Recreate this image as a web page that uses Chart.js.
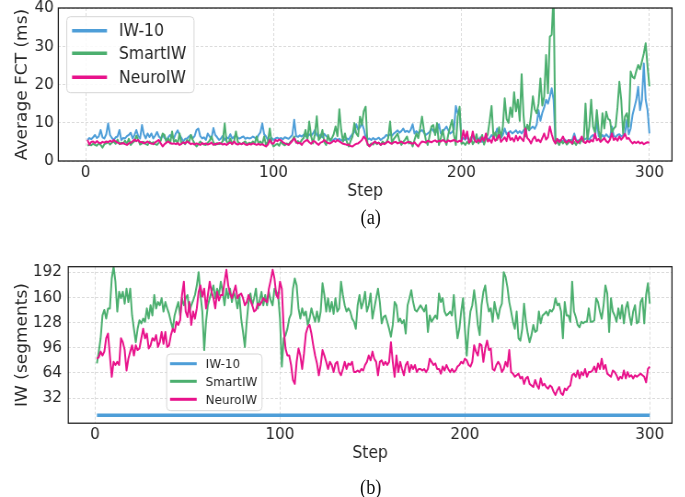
<!DOCTYPE html>
<html><head><meta charset="utf-8">
<script src="https://cdn.jsdelivr.net/npm/chart.js@4.4.1/dist/chart.umd.min.js"></script>
<style>
html,body{margin:0;padding:0;background:#fff;overflow:hidden;width:685px;height:497px;}
#wrap{position:absolute;left:0;top:0;width:745px;height:497px;transform:scaleX(0.92);transform-origin:0 0;}
canvas{position:absolute;left:0;}
.cap{position:absolute;left:353px;width:100px;text-align:center;font-family:'Liberation Serif','Times New Roman',serif;font-size:20px;line-height:24px;color:#111;}
</style></head>
<body>
<div id="wrap">
  <canvas id="c1" width="745" height="205" style="top:0;width:745px;height:205px;"></canvas>
  <div class="cap" style="top:205px;">(a)</div>
  <canvas id="c2" width="745" height="218" style="top:250px;width:745px;height:218px;"></canvas>
  <div class="cap" style="top:475px;">(b)</div>
</div>
<script>
const seriesNames = ['IW-10', 'SmartIW', 'NeuroIW'];
const steps = Array.from({length: 300}, (_, i) => i + 1);
const xTicks = [0, 100, 200, 300];
const fctTicks = [0, 10, 20, 30, 40];
const iwTicks = [32, 64, 96, 128, 160, 192];

// (a) Average FCT (ms)
const iw10Fct = [
5.5,6.0,5.7,6.2,6.8,6.0,6.4,8.1,6.2,5.9, 7.0,9.8,6.8,6.0,5.5,6.2,6.4,8.1,5.5,6.0,
5.9,6.5,6.8,7.4,5.9,6.8,8.1,6.5,5.9,9.4, 7.0,5.9,7.2,6.3,7.2,5.9,6.6,7.6,6.4,5.9,
6.8,6.0,5.5,6.2,6.8,6.3,5.9,7.2,8.0,6.8, 6.0,5.1,5.8,5.9,6.4,6.8,5.9,6.5,8.1,8.5,
6.5,5.9,6.2,5.5,7.2,6.4,5.9,8.6,6.8,6.2, 5.5,5.9,6.6,5.5,6.2,5.9,7.0,5.9,6.3,6.8,
6.0,5.9,6.2,6.4,5.8,6.1,5.9,6.0,6.4,6.1, 5.8,6.8,7.5,9.8,7.0,6.4,5.5,5.8,6.0,5.5,
5.9,6.1,5.8,6.0,5.7,6.2,6.0,5.8,6.3,6.8, 10.8,6.5,6.3,6.7,6.4,6.9,6.5,6.3,7.0,6.6,
7.2,8.1,6.8,6.3,6.9,6.2,7.1,6.5,6.0,5.8, 5.1,5.6,5.9,5.5,5.8,5.3,5.7,5.5,5.9,5.6,
6.4,7.0,7.6,9.6,8.2,8.8,9.9,8.4,6.3,5.7, 5.9,5.5,6.0,5.6,5.8,6.1,5.5,5.9,6.2,6.8,
6.5,7.0,6.6,7.2,7.6,8.0,7.4,7.8,8.5,7.6, 7.9,7.5,8.2,9.6,7.2,7.8,7.3,7.7,8.1,7.4,
6.8,7.2,7.6,8.5,7.9,7.3,8.0,9.6,7.2,7.7, 8.3,9.0,8.0,7.2,7.6,8.2,14.4,12.5,13.0,5.5,
6.0,5.6,6.4,5.2,5.8,6.5,5.4,6.0,5.5,6.2, 5.0,5.8,6.3,5.6,6.0,6.8,6.2,7.0,8.5,6.4,
6.0,6.8,8.5,7.0,7.4,7.8,7.2,7.6,8.0,7.3, 7.8,7.2,8.0,8.4,9.2,8.0,8.6,9.0,8.4,9.5,
13.3,10.5,12.6,14.0,16.0,15.0,16.8,19.0,16.0,5.4, 5.2,5.5,5.0,5.3,5.6,5.1,5.4,5.2,5.6,7.2,
5.5,5.2,5.6,5.3,5.5,5.8,6.0,5.6,6.4,6.8, 6.0,10.7,6.5,6.0,6.8,6.2,7.0,6.4,6.0,9.0,
6.6,6.2,6.8,7.0,6.4,6.8,7.2,10.7,7.0,8.5, 12.0,14.0,16.0,19.4,13.3,16.0,25.5,16.0,13.3,7.2
];
const smartFct = [
4.0,4.3,4.1,4.5,4.2,4.0,4.6,4.2,3.5,4.4, 4.6,5.0,4.3,4.8,5.1,4.5,5.6,4.4,4.8,4.6,
5.3,4.5,5.8,4.2,4.8,5.2,6.6,5.5,4.3,4.6, 5.0,4.4,4.2,5.1,4.6,4.9,4.4,4.2,4.8,5.3,
7.2,6.8,4.9,5.9,4.6,7.7,5.0,5.5,4.6,7.2, 4.6,4.9,4.4,5.5,4.8,6.8,5.5,4.6,3.8,4.4,
5.1,4.6,4.3,4.2,4.8,5.3,6.4,4.9,4.2,4.7, 4.4,4.6,5.2,9.8,5.1,4.6,5.9,4.5,5.1,7.7,
5.0,4.6,4.4,4.8,5.1,4.3,4.8,4.6,5.1,4.5, 6.4,4.6,5.1,4.4,6.4,4.2,5.0,8.5,4.8,3.8,
4.2,4.5,4.0,5.1,4.4,4.1,4.6,4.3,5.0,5.4, 6.4,4.8,5.2,4.6,5.5,6.0,8.1,5.4,10.3,6.5,
4.6,7.0,11.7,5.5,6.2,8.1,5.0,4.2,6.8,5.3, 5.9,7.0,9.0,6.5,13.5,8.1,5.1,7.2,5.0,3.8,
5.2,6.4,9.9,7.2,6.5,11.6,9.5,13.0,14.2,4.2, 4.0,4.6,4.3,5.0,4.4,4.8,4.2,5.1,4.5,4.8,
6.0,10.3,4.6,5.8,6.4,7.2,5.3,4.2,5.0,5.6, 6.4,4.6,5.0,3.8,5.5,7.2,6.0,8.5,11.6,8.1,
5.6,4.2,6.5,9.0,9.4,6.8,9.9,4.2,6.0,8.1, 5.5,4.2,7.0,9.0,10.7,6.8,4.2,11.6,14.2,4.5,
4.8,4.2,5.0,4.5,6.2,4.4,5.2,7.0,4.6,5.5, 6.8,4.3,5.8,7.0,10.5,14.4,6.4,7.5,5.5,8.8,
6.2,9.0,16.4,11.0,10.0,14.0,11.5,18.0,13.0,16.0, 10.5,22.7,12.0,6.4,9.5,8.1,12.0,16.9,13.5,12.5,
15.0,21.6,14.5,16.8,27.7,17.7,32.5,33.0,44.0,4.6, 5.0,4.2,5.4,4.6,5.2,4.3,4.8,5.5,4.4,5.0,
4.2,5.3,4.6,5.8,5.0,15.0,5.5,9.0,16.0,9.0, 7.5,13.3,8.0,5.5,12.5,8.5,12.9,11.0,10.7,7.2,
8.5,9.0,14.0,20.7,16.0,7.2,11.6,12.5,9.0,23.4, 22.0,21.6,23.5,25.1,24.0,26.0,28.1,30.8,24.7,19.5
];
const neuroFct = [
5.5,4.3,5.0,5.1,4.7,5.2,4.8,4.6,5.0,4.8, 5.1,4.9,5.3,5.0,5.5,5.1,4.8,4.6,4.5,4.7,
4.4,4.2,4.6,4.8,5.1,5.6,5.2,5.5,4.9,5.0, 4.6,4.8,5.1,4.7,4.6,4.4,4.9,5.2,5.5,4.6,
3.8,4.4,4.8,5.1,4.7,4.5,4.6,4.4,4.7,4.2, 4.5,4.9,4.6,5.1,4.8,4.4,4.6,4.3,4.6,4.4,
4.2,4.7,4.4,4.6,4.3,4.5,4.8,4.2,4.5,4.4, 4.7,4.6,4.3,4.5,4.2,4.6,4.9,4.4,5.1,4.5,
4.3,4.6,4.4,4.7,4.3,4.2,4.5,4.3,4.6,4.4, 4.2,4.5,4.2,4.4,4.1,3.8,4.3,5.5,4.6,4.6,
5.5,5.2,5.6,5.4,4.9,4.6,4.4,4.2,4.7,5.3, 5.9,5.0,4.6,4.8,4.2,4.9,5.3,5.5,4.9,4.5,
5.2,5.1,4.6,4.2,4.8,5.0,5.5,5.0,4.7,4.6, 4.9,5.3,5.0,5.5,5.1,4.8,4.5,4.4,4.2,4.3,
3.9,3.8,4.2,4.5,4.6,5.0,5.5,6.4,5.8,4.5, 3.8,4.3,4.7,5.1,4.6,4.8,4.2,4.6,4.4,4.8,
5.1,4.7,4.5,4.9,5.0,4.6,4.8,5.1,4.7,4.6, 4.9,5.0,4.7,4.5,4.9,4.3,3.8,4.6,5.1,5.0,
4.8,5.3,5.1,4.9,5.2,5.4,5.0,5.3,5.1,5.5, 5.2,4.9,5.4,5.1,5.3,5.5,5.2,5.0,5.3,5.1,
8.0,5.8,7.7,4.8,5.2,7.7,5.5,4.9,5.6,5.0, 6.2,5.3,7.2,5.1,5.6,4.8,6.4,5.3,5.8,6.8,
5.0,5.6,6.2,5.2,7.4,5.5,6.0,5.1,6.6,5.4, 6.4,5.8,5.2,8.5,6.0,5.5,4.6,5.8,6.4,5.2,
5.6,4.9,6.0,7.2,5.6,6.2,9.0,7.0,5.4,4.6, 5.8,5.0,5.5,6.4,5.2,4.8,5.5,5.0,4.6,6.4,
5.2,4.8,5.4,6.4,5.0,4.7,5.3,4.9,5.5,5.1, 7.2,5.4,5.8,5.0,5.5,6.0,5.2,4.8,5.6,7.2,
5.5,6.0,5.3,6.4,5.6,6.2,7.1,5.8,6.0,5.2, 4.6,5.0,4.7,5.1,4.6,4.9,4.4,4.7,4.9,4.8
];

// (b) IW (segments)
const iw10IwSteps = [1, 300];
const iw10Iw = [10, 10];
const smartIw = [
76,91,108,137,144,133,146,146,184,199, 180,142,167,159,167,152,171,154,171,137,
120,103,120,131,127,133,129,146,133,150, 137,163,146,154,150,159,142,154,146,139,
129,120,137,146,154,137,159,150,159,163, 142,150,156,163,175,192,163,142,93,129,
150,159,167,175,159,171,163,180,167,150, 171,159,171,154,167,159,146,163,133,116,
97,129,154,165,150,159,171,146,156,167, 150,163,150,167,156,150,171,167,163,133,
72,108,112,120,133,139,171,184,175,146, 133,146,137,142,125,133,146,137,129,142,
129,142,178,163,142,159,142,154,139,159, 142,146,180,163,150,142,146,142,133,129,
120,150,163,146,154,167,142,150,165,133, 146,159,171,154,127,135,137,129,120,110,
125,154,150,129,133,127,131,114,150,159, 169,154,144,142,146,150,146,142,150,116,
137,129,133,137,133,165,154,159,142,137, 139,142,137,163,133,108,120,142,159,120,
86,120,142,150,169,150,125,112,150,167, 175,154,142,146,129,154,142,133,146,152,
192,186,173,154,142,129,120,142,108,105, 120,152,129,114,103,112,125,116,118,142,
127,137,139,142,137,144,142,146,159,150, 152,142,108,154,137,137,129,180,142,135,
125,122,129,127,129,129,146,129,129,131, 159,154,142,133,150,175,165,116,159,142,
137,129,146,133,150,127,146,154,137,125, 142,150,127,129,154,159,127,163,178,152
];
const neuroIw = [
82,84,91,86,91,108,114,86,59,78, 74,78,74,108,103,93,67,82,91,99,
86,99,93,95,108,120,108,114,95,99, 108,105,112,97,103,116,101,116,97,99,
112,120,116,129,125,131,163,180,142,135, 154,125,142,133,146,167,175,161,171,146,
163,180,167,159,146,167,156,163,163,180, 195,175,165,159,167,175,159,163,165,159,
150,154,163,156,150,142,144,152,150,154, 159,156,154,171,182,195,184,163,159,180,
171,120,95,86,86,74,55,50,78,95, 86,69,89,114,122,125,114,99,86,76,
61,74,93,86,78,69,78,74,65,76, 78,65,61,69,78,69,76,74,78,65,
65,67,65,69,67,74,78,86,80,91, 82,78,61,78,80,74,78,74,78,103,
78,59,86,65,78,69,61,74,78,65, 74,69,74,65,69,69,67,69,65,69,
82,78,74,76,69,69,63,72,67,74, 69,65,69,65,67,72,74,78,76,82,
80,74,72,78,99,91,86,101,99,78, 95,105,93,95,69,67,74,78,74,65,
69,78,72,93,65,63,59,61,63,57, 59,50,57,59,50,48,46,55,48,44,
57,48,50,46,44,48,46,40,36,42, 46,38,36,44,42,46,48,61,63,59,
67,57,65,61,69,59,65,65,67,72, 65,76,69,82,69,74,63,61,59,67,
65,61,55,59,57,67,57,65,59,61, 57,61,59,61,63,61,59,52,69,72
];

const COLORS = ['#4e9ed8', '#4caf6f', '#e8128b'];
const TEXT = '#262626';
Chart.defaults.font.family = "'DejaVu Sans', 'Noto Sans', sans-serif";
Chart.defaults.color = TEXT;

function pts(xs, ys) { return ys.map((y, i) => ({x: xs[i], y: y})); }

const framePlugin = {
  id: 'frame',
  afterDatasetsDraw(chart, args, opts) {
    const {ctx, chartArea: a} = chart;
    ctx.save();
    ctx.strokeStyle = '#1a1a1a';
    ctx.lineWidth = 1.25;
    ctx.strokeRect(a.left, a.top, a.right - a.left, a.bottom - a.top);
    // legend box
    const L = opts.legend;
    ctx.beginPath();
    if (ctx.roundRect) ctx.roundRect(L.x, L.y, L.w, L.h, 4); else ctx.rect(L.x, L.y, L.w, L.h);
    ctx.fillStyle = 'rgba(255,255,255,0.85)';
    ctx.fill();
    ctx.strokeStyle = '#d6d6d6';
    ctx.lineWidth = 1;
    ctx.stroke();
    ctx.font = L.fontSize + "px 'DejaVu Sans'";
    ctx.textBaseline = 'middle';
    ctx.textAlign = 'left';
    chart.data.datasets.forEach((ds, i) => {
      const y = L.rows[i];
      ctx.strokeStyle = ds.borderColor;
      ctx.lineWidth = L.lw;
      ctx.beginPath();
      ctx.moveTo(L.hx0, y);
      ctx.lineTo(L.hx1, y);
      ctx.stroke();
      ctx.fillStyle = TEXT;
      ctx.fillText(ds.label, L.tx, y + 1);
    });
    ctx.restore();
  }
};

function xScale(axisH, titlePadBottom) {
  return {
    type: 'linear', min: -14.5, max: 312,
    afterBuildTicks: s => { s.ticks = xTicks.map(v => ({value: v})); },
    afterFit: s => { s.height = axisH; s.paddingLeft = 0; s.paddingRight = 0; },
    grid: {color: '#d2d2d2', lineWidth: 0.8, drawTicks: false},
    border: {display: false, dash: [3, 2]},
    ticks: {padding: 2, color: TEXT, font: {size: 16.5}, maxRotation: 0, autoSkip: false},
    title: {display: true, text: 'Step', color: TEXT, font: {size: 17}, padding: {top: 0, bottom: titlePadBottom}}
  };
}
function yScale(min, max, tickVals, width, title, pad) {
  return {
    type: 'linear', min: min, max: max,
    afterBuildTicks: s => { s.ticks = tickVals.map(v => ({value: v})); },
    afterFit: s => { s.width = width; s.paddingTop = 0; s.paddingBottom = 0; },
    grid: {color: '#d2d2d2', lineWidth: 0.8, drawTicks: false},
    border: {display: false, dash: [3, 2]},
    ticks: {padding: pad, color: TEXT, font: {size: 16.5}, autoSkip: false},
    title: {display: true, text: title, color: TEXT, font: {size: 17}, padding: {top: 14, bottom: 0}}
  };
}
function lineDs(label, data, color, width, order) {
  return {label: label, data: data, borderColor: color, backgroundColor: color, borderWidth: width,
          pointRadius: 0, tension: 0, fill: false, clip: 0, order: order, borderJoinStyle: 'round'};
}

new Chart(document.getElementById('c1'), {
  type: 'line',
  data: {datasets: [
    lineDs(seriesNames[0], pts(steps, iw10Fct), COLORS[0], 2, 3),
    lineDs(seriesNames[1], pts(steps, smartFct), COLORS[1], 2, 2),
    lineDs(seriesNames[2], pts(steps, neuroFct), COLORS[2], 2, 1)
  ]},
  options: {
    responsive: false, animation: false, devicePixelRatio: 1, parsing: false, normalized: true,
    layout: {padding: {top: 8, right: 14.6, left: 0, bottom: 0}},
    plugins: {legend: {display: false}, tooltip: {enabled: false},
      frame: {legend: {x: 72.5, y: 16.7, w: 138.4, h: 76, rows: [30.7, 53.3, 77.3], hx0: 78.3, hx1: 116.3, tx: 129.3, lw: 3.5, fontSize: 17}}},
    scales: {
      x: xScale(44, 3),
      y: yScale(0, 40, fctTicks, 63.4, 'Average FCT (ms)', 5)
    }
  },
  plugins: [framePlugin]
});

new Chart(document.getElementById('c2'), {
  type: 'line',
  data: {datasets: [
    lineDs(seriesNames[0], pts(iw10IwSteps, iw10Iw), COLORS[0], 3.5, 3),
    lineDs(seriesNames[1], pts(steps, smartIw), COLORS[1], 2, 2),
    lineDs(seriesNames[2], pts(steps, neuroIw), COLORS[2], 2, 1)
  ]},
  options: {
    responsive: false, animation: false, devicePixelRatio: 1, parsing: false, normalized: true,
    layout: {padding: {top: 16.7, right: 14.6, left: 0, bottom: 0}},
    plugins: {legend: {display: false}, tooltip: {enabled: false},
      frame: {legend: {x: 181.2, y: 104, w: 103.6, h: 56.7, rows: [113.7, 131.3, 149.3], hx0: 184.8, hx1: 213.8, tx: 223.6, lw: 3, fontSize: 13}}},
    scales: {
      x: xScale(44.8, 4),
      y: yScale(0, 199, iwTicks, 74.2, 'IW (segments)', 7)
    }
  },
  plugins: [framePlugin]
});
</script>
</body></html>
